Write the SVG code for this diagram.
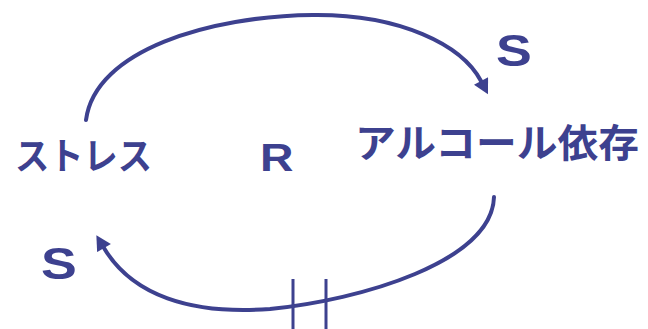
<svg xmlns="http://www.w3.org/2000/svg" width="648" height="329" viewBox="0 0 648 329">
  <style>
    .jp { font-family: "Noto Sans CJK JP", "Noto Sans CJK SC", sans-serif; font-weight: bold; fill: #3d418f; }
    .lat { font-family: "Liberation Sans", Arial, sans-serif; font-weight: bold; fill: #3d418f; }
    .link { fill: none; stroke: #3d418f; stroke-width: 4; stroke-linecap: round; }
    .hash { stroke: #3d418f; stroke-width: 3; }
  </style>
  <defs>
    <marker id="arrow" markerUnits="userSpaceOnUse" markerWidth="16" markerHeight="16" refX="0" refY="7.5" orient="auto" viewBox="0 0 14 15">
      <path d="M0,0 L14,7.5 L0,15 z" fill="#3d418f"/>
    </marker>
  </defs>
  <rect width="648" height="329" fill="#ffffff"/>
  <g id="connectors">
    <path class="link" d="M86,120 C95,50 210,16 313,15 C400,14 462,45 481,81" marker-end="url(#arrow)"/>
    <path class="link" d="M494,197 C492,262 360,300 270,309 C190,315 132,295 104,248" marker-end="url(#arrow)"/>
    <line class="hash" x1="293" y1="279" x2="293" y2="329"/>
    <line class="hash" x1="326" y1="279" x2="326" y2="329"/>
  </g>
  <g id="node-stress">
    <text class="jp" x="15" y="170" font-size="37" textLength="137" lengthAdjust="spacingAndGlyphs">ストレス</text>
  </g>
  <g id="node-alcohol">
    <text class="jp" x="355" y="157" font-size="39" textLength="284" lengthAdjust="spacingAndGlyphs">アルコール依存</text>
  </g>
  <g id="label-r">
    <text class="lat" transform="translate(260,171) scale(1.22,1)" x="0" y="0" font-size="38">R</text>
  </g>
  <g id="label-s-top">
    <text class="lat" transform="translate(496,65.5) scale(1.22,1)" x="0" y="0" font-size="44">S</text>
  </g>
  <g id="label-s-bottom">
    <text class="lat" transform="translate(41,278.5) scale(1.22,1)" x="0" y="0" font-size="44">S</text>
  </g>
</svg>
